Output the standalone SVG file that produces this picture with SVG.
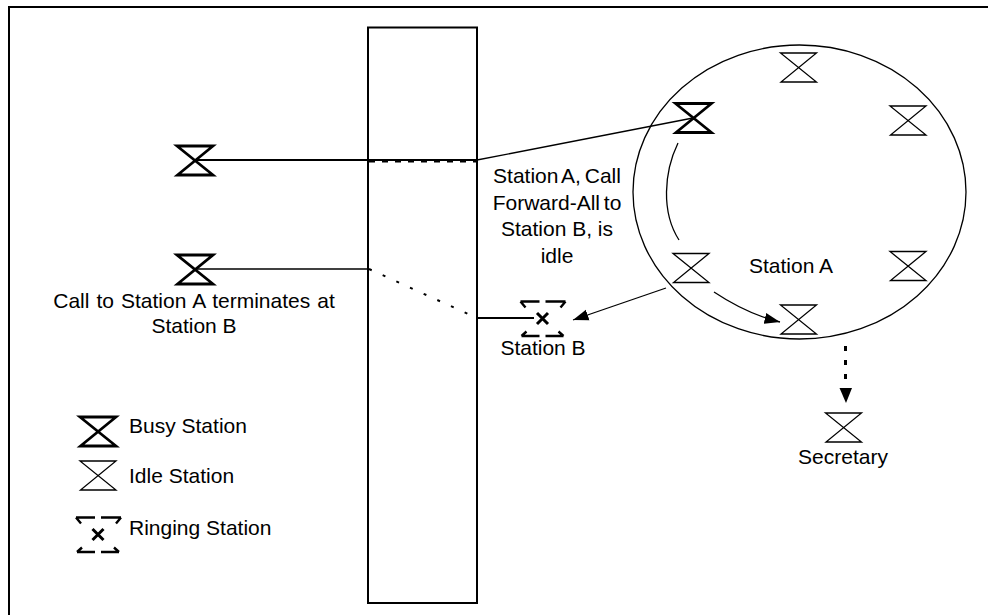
<svg xmlns="http://www.w3.org/2000/svg" width="988" height="615" viewBox="0 0 988 615">
<style>
text{font-family:"Liberation Sans",Arial,sans-serif;font-size:21px;fill:#000}
.m{text-anchor:middle}
.tight{word-spacing:-2px}
.wide{word-spacing:1.2px}
.l{fill:none;stroke:#000;stroke-width:1.3}
.t{fill:none;stroke:#000;stroke-width:2}
.idle{fill:none;stroke:#000;stroke-width:1.3}
.busy{fill:none;stroke:#000;stroke-width:2.8}
.ring{fill:none;stroke:#000;stroke-width:2.4}
</style>
<defs>
<marker id="arrow" markerUnits="userSpaceOnUse" markerWidth="16" markerHeight="12" refX="15.500" refY="6" orient="auto"><path d="M0 0.500L15.500 6L0 11.500Z" fill="#000"/></marker>
<path id="hg" d="M-18-14.500H18L-17.500 14.500H18Z"/>
<g id="rg"><path d="M-22-17H-3M-22-17L-17-11M23-17H3M23-17L18-11M-21 17.500H-3M-21 17.500L-16 13M21 17.500H3M21 17.500L16 13"/><path d="M-5.500-5.500L5.500 5.500M5.500-5.500L-5.500 5.500" stroke-width="3"/></g>
</defs>
<rect id="frame" x="9" y="7" width="990" height="620" fill="none" stroke="#000" stroke-width="2"/>
<rect id="switch" x="368" y="27.500" width="109" height="575.500" fill="none" stroke="#000" stroke-width="2"/>
<g id="ring-a"><ellipse cx="799.500" cy="192" rx="166.500" ry="147" fill="none" stroke="#000" stroke-width="1.300"/></g>
<g id="connectors">
<path class="t" d="M195 160H477"/>
<path class="t" d="M369 161.500H477" stroke-dasharray="6 7"/>
<path class="l" d="M477 160L693 118"/>
<path class="l" d="M195 269H369"/>
<path d="M369 269L477 318" fill="none" stroke="#000" stroke-width="2" stroke-dasharray="3 12"/>
<path class="t" d="M477 318H534"/>
<path class="l" d="M678 143C664 172 661 212 679 240"/>
<path class="l" d="M714 292C735 306 755 316 780 322" marker-end="url(#arrow)"/>
<path class="l" d="M666 288L573 320" marker-end="url(#arrow)"/>
<path d="M845.500 346V388" fill="none" stroke="#000" stroke-width="3" stroke-dasharray="5 9"/>
<path d="M839.500 388H852L846 403Z" fill="#000"/>
</g>
<g id="station-top"><use href="#hg" x="798.500" y="67.500" class="idle"/></g>
<g id="station-right"><use href="#hg" x="908" y="120.500" class="idle"/></g>
<g id="station-busy-a"><use href="#hg" x="693.500" y="118" class="busy"/></g>
<g id="station-left"><use href="#hg" x="691" y="268" class="idle"/></g>
<g id="station-right-low"><use href="#hg" x="908" y="266" class="idle"/></g>
<g id="station-bottom"><use href="#hg" x="798.500" y="319.500" class="idle"/></g>
<g id="station-secretary"><use href="#hg" x="843.500" y="427.500" class="idle"/><text class="m" x="843" y="464">Secretary</text></g>
<g id="station-caller-1"><use href="#hg" x="195" y="160.500" class="busy"/></g>
<g id="station-caller-2"><use href="#hg" x="195" y="269.500" class="busy"/><text class="m wide" x="194" y="308">Call to Station A terminates at</text><text class="m" x="194" y="333">Station B</text></g>
<g id="station-b"><use href="#rg" x="542.500" y="318.500" class="ring"/><text class="m" x="543" y="355">Station B</text></g>
<text id="label-a" class="m" x="791" y="273">Station A</text>
<g id="note"><text class="m tight" x="557" y="183">Station A, Call</text><text class="m tight" x="557" y="210">Forward-All to</text><text class="m" x="557" y="236">Station B, is</text><text class="m" x="557" y="263">idle</text></g>
<g id="legend-busy"><use href="#hg" x="98" y="431.500" class="busy"/><text x="129" y="433">Busy Station</text></g>
<g id="legend-idle"><use href="#hg" x="98" y="475.500" class="idle"/><text x="129" y="483">Idle Station</text></g>
<g id="legend-ring"><use href="#rg" x="98" y="534.500" class="ring"/><text x="129" y="535">Ringing Station</text></g>
</svg>
